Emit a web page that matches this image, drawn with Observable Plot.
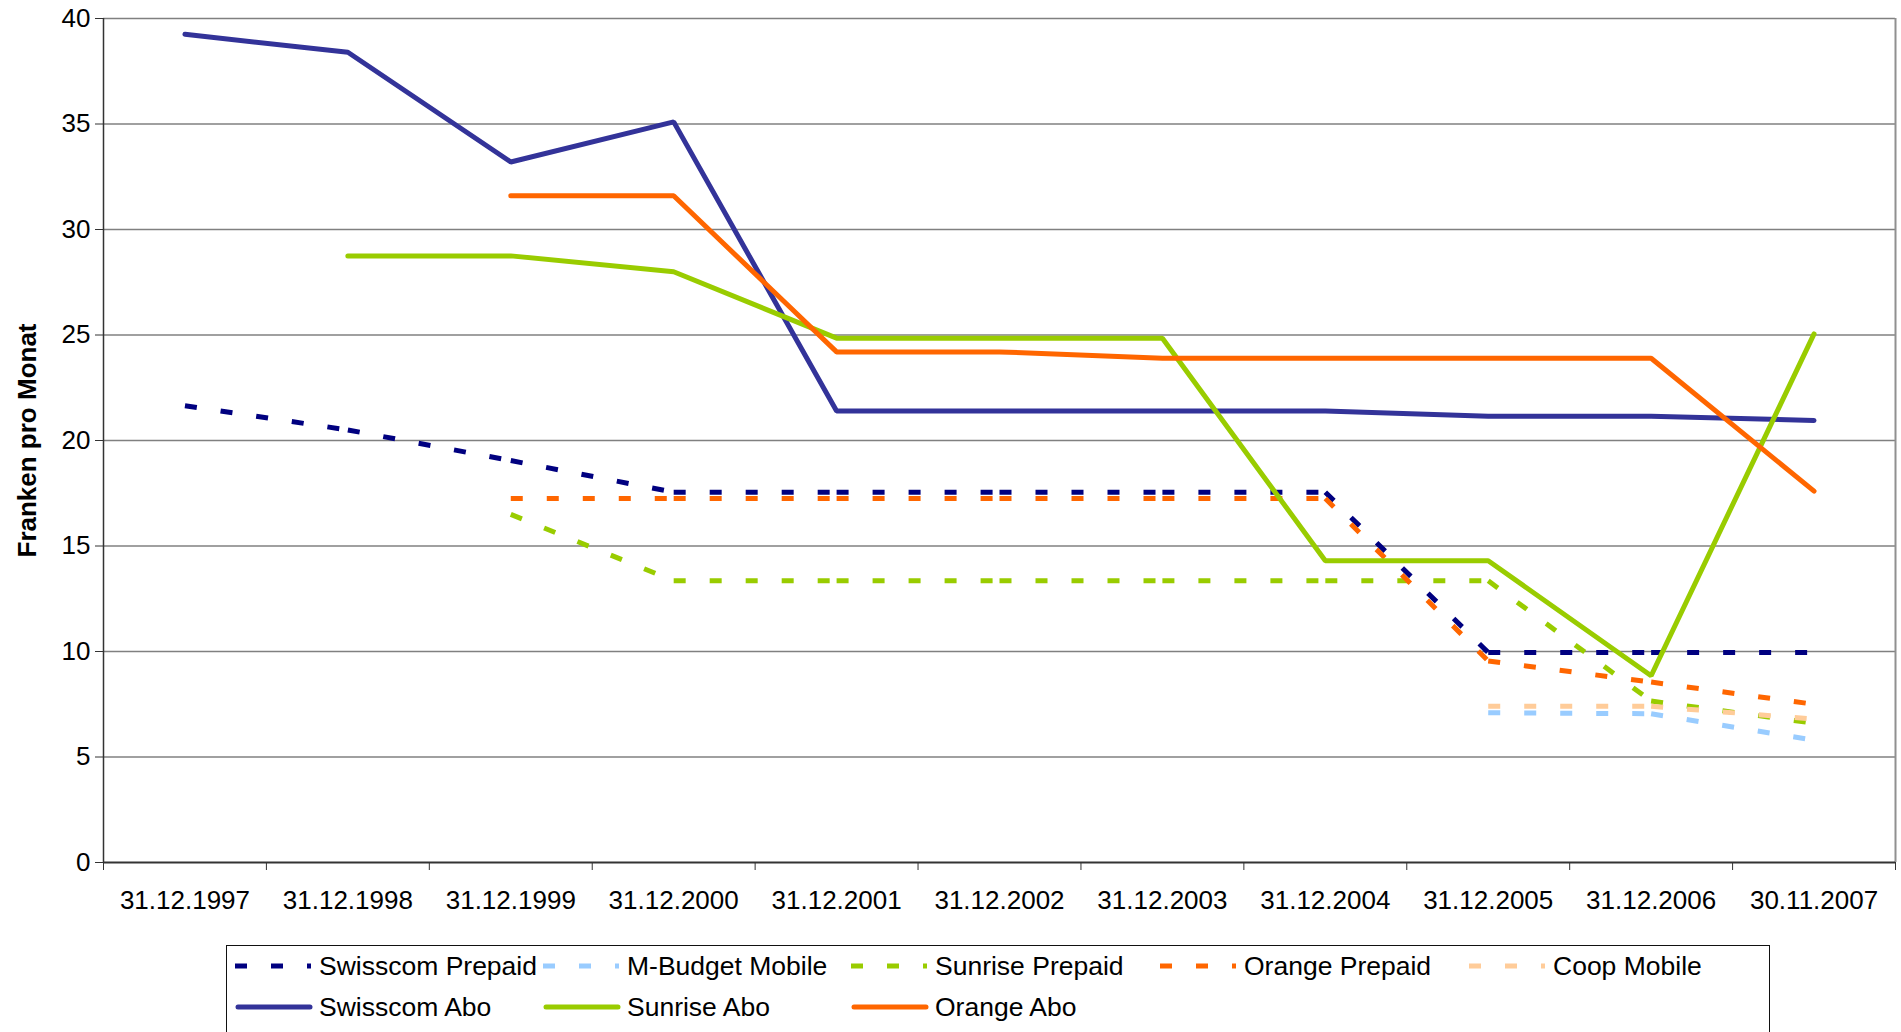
<!DOCTYPE html>
<html>
<head>
<meta charset="utf-8">
<script src="https://cdn.jsdelivr.net/npm/d3@7"></script>
<script src="https://cdn.jsdelivr.net/npm/@observablehq/plot@0.6"></script>
<style>
  html, body { margin: 0; padding: 0; background: #fff; }
  body { font-family: "Liberation Sans", Arial, sans-serif; }
  #wrap { position: relative; width: 1901px; height: 1032px; overflow: hidden; background: #fff; }
  #chart { position: absolute; left: 0; top: 0; }
  #legend { position: absolute; left: 226px; top: 945px; width: 1544px; height: 130px;
            border: 1.5px solid #111; box-sizing: border-box; background: #fff; }
  .item { position: absolute; height: 30px; display: flex; align-items: center;
          font-size: 26.5px; color: #000; white-space: nowrap; }
  .item svg { display: block; margin-right: 6px; }
</style>
</head>
<body>
<div id="wrap">
  <div id="chart"></div>
  <div id="legend"></div>
</div>
<script>
// ---- data ----
const categories = ["31.12.1997", "31.12.1998", "31.12.1999", "31.12.2000", "31.12.2001",
  "31.12.2002", "31.12.2003", "31.12.2004", "31.12.2005", "31.12.2006", "30.11.2007"];

const swisscomPrepaid = [21.65, 20.5, 19.05, 17.55, 17.55, 17.55, 17.55, 17.55, 9.95, 9.95, 9.95];
const mBudgetMobile   = [null, null, null, null, null, null, null, null, 7.1, 7.05, 5.8];
const sunrisePrepaid  = [null, null, 16.5, 13.35, 13.35, 13.35, 13.35, 13.35, 13.35, 7.65, 6.6];
const orangePrepaid   = [null, null, 17.25, 17.25, 17.25, 17.25, 17.25, 17.25, 9.55, 8.55, 7.5];
const coopMobile      = [null, null, null, null, null, null, null, null, 7.4, 7.4, 6.8];
const swisscomAbo     = [39.25, 38.4, 33.2, 35.1, 21.4, 21.4, 21.4, 21.4, 21.15, 21.15, 20.95];
const sunriseAbo      = [null, 28.75, 28.75, 28.0, 24.85, 24.85, 24.85, 14.3, 14.3, 8.85, 25.05];
const orangeAbo       = [null, null, 31.6, 31.6, 24.2, 24.2, 23.9, 23.9, 23.9, 23.9, 17.6];

const seriesNames  = ["Swisscom Prepaid", "M-Budget Mobile", "Sunrise Prepaid", "Orange Prepaid", "Coop Mobile",
                      "Swisscom Abo", "Sunrise Abo", "Orange Abo"];
const seriesValues = [swisscomPrepaid, mBudgetMobile, sunrisePrepaid, orangePrepaid, coopMobile,
                      swisscomAbo, sunriseAbo, orangeAbo];
const seriesColors = ["#000080", "#99CCFF", "#99CC00", "#FF6600", "#FFCC99",
                      "#333399", "#99CC00", "#FF6600"];
const seriesDashed = [true, true, true, true, true, false, false, false];

const yTicks = [0, 5, 10, 15, 20, 25, 30, 35, 40];
const yLabel = "Franken pro Monat";

// ---- helpers building tables from the arrays ----
function points(values) {
  return values.map((v, i) => ({i, v})).filter(d => d.v != null);
}
function segments(values) {
  const out = [];
  for (let i = 0; i < values.length - 1; i++) {
    if (values[i] != null && values[i + 1] != null)
      out.push({x1: i, y1: values[i], x2: i + 1, y2: values[i + 1]});
  }
  return out;
}

const idx = d3.range(categories.length);
const bounds = d3.range(categories.length + 1).map(k => k - 0.5);

const seriesMarks = seriesNames.map((name, s) => {
  if (seriesDashed[s]) {
    return Plot.link(segments(seriesValues[s]), {
      x1: "x1", y1: "y1", x2: "x2", y2: "y2",
      stroke: seriesColors[s], strokeWidth: 5, strokeDasharray: "12,24", strokeLinecap: "butt"
    });
  }
  return Plot.line(points(seriesValues[s]), {
    x: "i", y: "v", stroke: seriesColors[s], strokeWidth: 5,
    strokeLinecap: "round", strokeLinejoin: "miter"
  });
});

const chart = Plot.plot({
  width: 1901,
  height: 935,
  marginLeft: 103,
  marginRight: 6,
  marginTop: 18,
  marginBottom: 73,
  style: {fontFamily: "'Liberation Sans', Arial, sans-serif", fontSize: "26px", color: "#000", background: "#fff", overflow: "visible"},
  x: {type: "linear", domain: [-0.5, categories.length - 0.5], label: null},
  y: {domain: [0, 40], label: null},
  marks: [
    Plot.ruleY(yTicks.filter(t => t > 0), {stroke: "#808080", strokeWidth: 1.3}),
    Plot.ruleX([categories.length - 0.5], {y1: 0, y2: 40, stroke: "#909090", strokeWidth: 2}),
    Plot.axisY({ticks: yTicks, tickSize: 8, tickPadding: 5, stroke: "#333", label: null}),
    Plot.axisX({ticks: bounds, tickSize: 8, tickFormat: () => "", stroke: "#333", label: null}),
    Plot.axisX({ticks: idx, tickSize: 0, tickPadding: 28, tickFormat: i => categories[i], label: null}),
    Plot.ruleX([-0.5], {y1: 0, y2: 40, stroke: "#333", strokeWidth: 1.5}),
    Plot.ruleY([0], {stroke: "#333", strokeWidth: 2}),
    Plot.text([yLabel], {frameAnchor: "left", textAnchor: "middle", rotate: -90, dx: -76,
                         fontWeight: "bold", fontSize: 26, fill: "#000"}),
    ...seriesMarks
  ]
});
document.getElementById("chart").appendChild(chart);

// ---- legend (HTML, below the SVG) ----
const legend = document.getElementById("legend");
const colX = [8, 316, 624, 933, 1242];
const rowY = [5, 46];
const rowsOrder = [[0, 1, 2, 3, 4], [5, 6, 7]];
rowsOrder.forEach((row, r) => {
  row.forEach((s, c) => {
    const item = document.createElement("div");
    item.className = "item";
    item.style.left = colX[c] + "px";
    item.style.top = rowY[r] + "px";
    const ns = "http://www.w3.org/2000/svg";
    const svg = document.createElementNS(ns, "svg");
    svg.setAttribute("width", 78);
    svg.setAttribute("height", 12);
    const ln = document.createElementNS(ns, "line");
    ln.setAttribute("y1", 6); ln.setAttribute("y2", 6);
    ln.setAttribute("stroke", seriesColors[s]);
    ln.setAttribute("stroke-width", 5);
    if (seriesDashed[s]) {
      ln.setAttribute("x1", 0); ln.setAttribute("x2", 76);
      ln.setAttribute("stroke-dasharray", "12,24");
    } else {
      ln.setAttribute("x1", 3); ln.setAttribute("x2", 75);
      ln.setAttribute("stroke-linecap", "round");
    }
    svg.appendChild(ln);
    item.appendChild(svg);
    const t = document.createElement("span");
    t.textContent = seriesNames[s];
    item.appendChild(t);
    legend.appendChild(item);
  });
});
</script>
</body>
</html>
